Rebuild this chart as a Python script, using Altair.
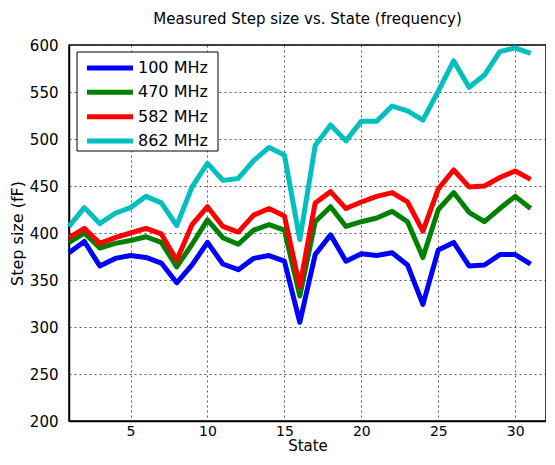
import altair as alt
import pandas as pd

states = list(range(1, 32))
series_names = ["100 MHz", "470 MHz", "582 MHz", "862 MHz"]
colors = ["#0000FF", "#008000", "#FF0000", "#00BFBF"]

v100 = [379, 391, 365, 373, 376, 374, 368, 347, 366, 390, 367, 361, 373, 376, 370, 305,
        377, 398, 370, 378, 376, 379, 366, 324, 382, 390, 365, 366, 377, 377, 367]
v470 = [390, 400, 384, 389, 392, 396, 390, 364, 388, 414, 395, 388, 403, 409, 403, 333,
        412, 428, 407, 412, 416, 423, 412, 374, 425, 443, 422, 412, 426, 439, 426]
v582 = [395, 405, 389, 395, 400, 405, 399, 371, 409, 428, 407, 401, 419, 426, 418, 343,
        432, 444, 426, 433, 439, 443, 433, 402, 447, 467, 449, 450, 459, 466, 457]
v862 = [407, 427, 410, 421, 427, 439, 432, 408, 449, 474, 456, 458, 477, 491, 483, 393,
        493, 515, 498, 519, 519, 535, 530, 520, 551, 583, 555, 568, 593, 597, 591]

rows = []
for name, vals in zip(series_names, [v100, v470, v582, v862]):
    for s, v in zip(states, vals):
        rows.append({"State": s, "Step": v, "Freq": name})
df = pd.DataFrame(rows)
legend_df = pd.DataFrame({"Freq": series_names})
box_df = pd.DataFrame({"k": [0]})

font = "DejaVu Sans"
color_scale = alt.Scale(domain=series_names, range=colors)

lines = alt.Chart(df).mark_line(strokeWidth=5, strokeJoin="round").encode(
    x=alt.X("State:Q", scale=alt.Scale(domain=[1, 32], nice=False, zero=False),
            axis=alt.Axis(title="State", values=[5, 10, 15, 20, 25, 30], format="d")),
    y=alt.Y("Step:Q", scale=alt.Scale(domain=[200, 600], nice=False, zero=False),
            axis=alt.Axis(title="Step size (fF)", values=list(range(200, 601, 50)), format="d")),
    color=alt.Color("Freq:N", scale=color_scale, legend=None),
)

box = alt.Chart(box_df).mark_rect(fill="white", stroke="black", strokeWidth=1).encode(
    x=alt.value(8), x2=alt.value(149), y=alt.value(7), y2=alt.value(106)
)

leg_y = alt.Y("Freq:N", scale=alt.Scale(type="point", domain=series_names, range=[23, 96], padding=0),
              axis=None)

leg_lines = alt.Chart(legend_df).mark_rule(strokeWidth=5).encode(
    x=alt.value(18), x2=alt.value(64), y=leg_y,
    color=alt.Color("Freq:N", scale=color_scale, legend=None),
)

leg_text = alt.Chart(legend_df).mark_text(align="left", baseline="middle", font=font,
                                          fontSize=16, color="black").encode(
    x=alt.value(69), y=leg_y, text="Freq:N"
)

chart = alt.layer(lines, box, leg_lines, leg_text).resolve_scale(
    y="independent"
).properties(
    width=477, height=376,
    title=alt.TitleParams("Measured Step size vs. State (frequency)", font=font,
                          fontSize=15, fontWeight="normal", color="black", offset=11),
    autosize=alt.AutoSizeParams(type="none"),
    padding={"left": 61, "top": 37, "right": 0, "bottom": 36},
).configure_view(
    stroke="black", strokeWidth=1.5
).configure_axis(
    labelFont=font, labelFontSize=15, labelColor="black",
    titleFont=font, titleFontSize=16, titleFontWeight="normal", titleColor="black",
    grid=True, gridColor="#333333", gridDash=[2, 3], gridWidth=1, gridOpacity=0.8,
    domainColor="black", domainWidth=1.5, ticks=False,
).configure_axisY(
    labelPadding=11, titlePadding=4
).configure_axisX(
    labelPadding=3, titlePadding=0, labelFontSize=14, titleFontSize=15
)

chart.save("out.html", embed_options={"renderer": "svg", "actions": False})
